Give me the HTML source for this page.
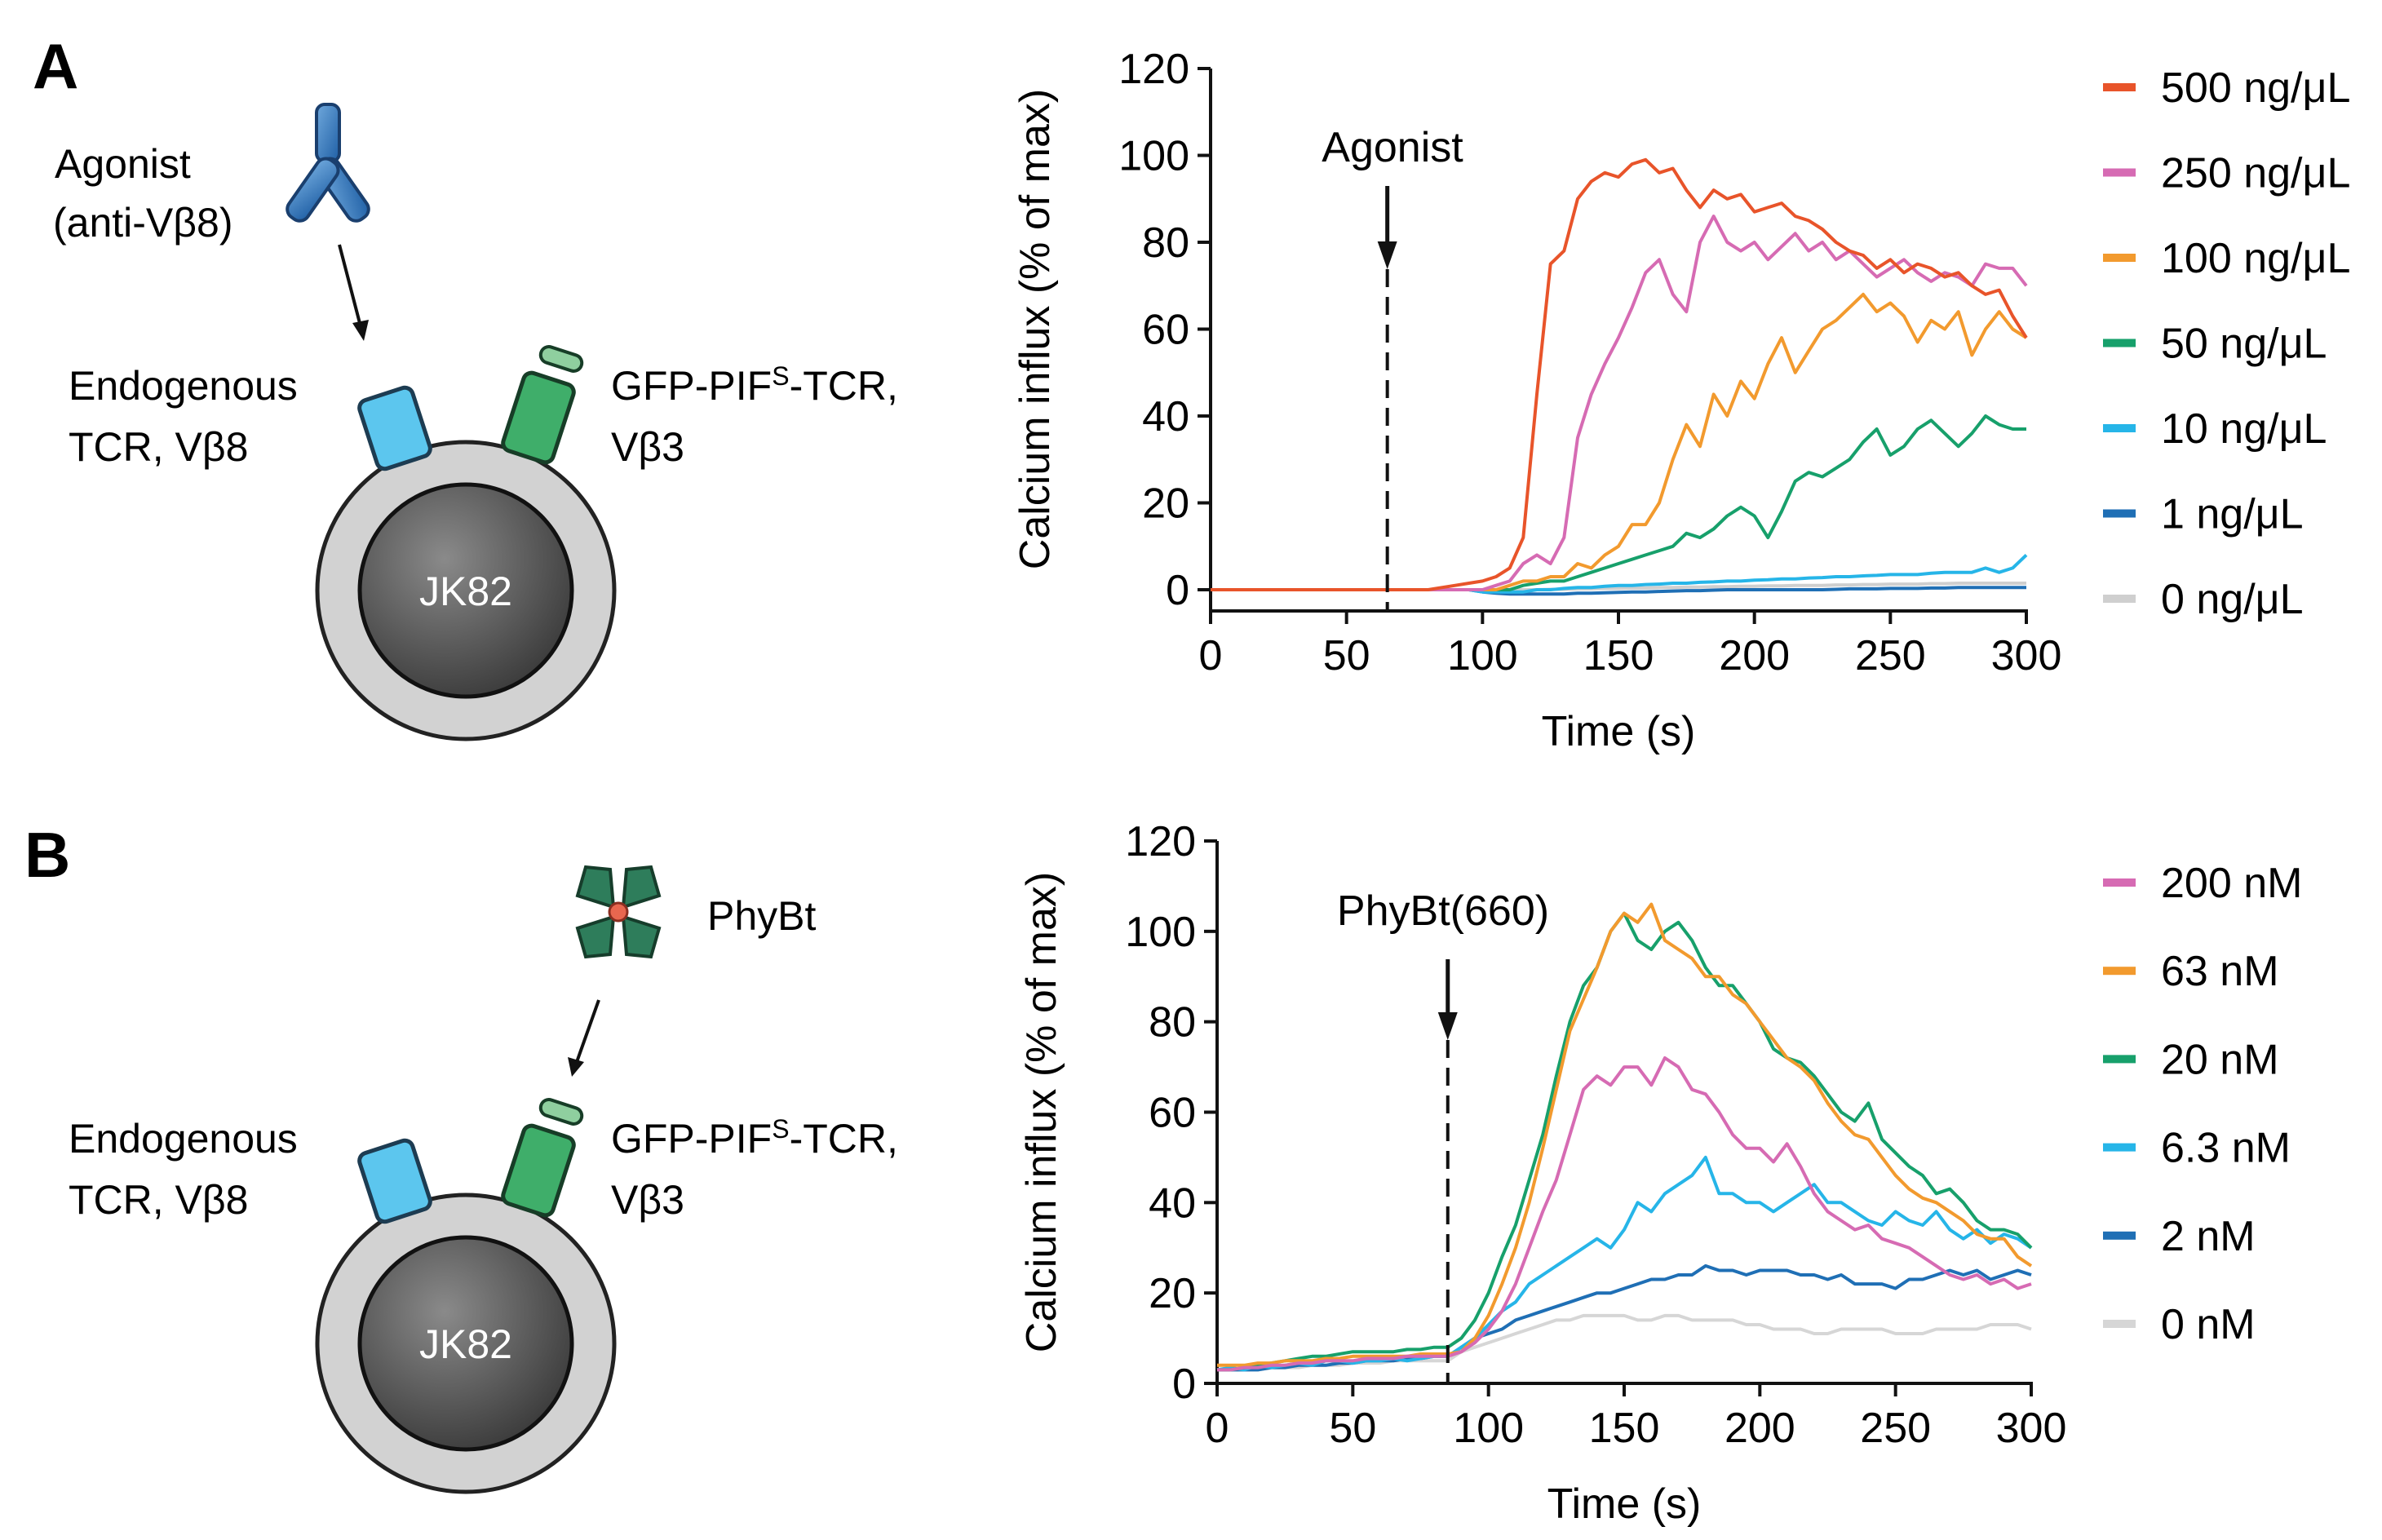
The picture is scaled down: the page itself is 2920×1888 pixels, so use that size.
<!DOCTYPE html>
<html><head><meta charset="utf-8"><style>
html,body{margin:0;padding:0;background:#fff}
svg{display:block;font-family:"Liberation Sans",Arial,sans-serif}
</style></head><body>
<svg id="fig" width="2920" height="1888" viewBox="0 0 2920 1888" xmlns="http://www.w3.org/2000/svg">
<defs>
<radialGradient id="core" cx="40%" cy="35%" r="70%"><stop offset="0" stop-color="#8a8a8a"/><stop offset="1" stop-color="#3a3a3a"/></radialGradient>
<linearGradient id="ab" x1="0" y1="0" x2="1" y2="1"><stop offset="0" stop-color="#6fa8dc"/><stop offset="1" stop-color="#1f5fa5"/></linearGradient>
</defs>
<g>
<text x="40" y="108" font-size="78" font-weight="bold">A</text>
<text x="67" y="218" font-size="50">Agonist</text>
<text x="65" y="290" font-size="50">(anti-Vβ8)</text>
<g transform="translate(402,206)" fill="url(#ab)" stroke="#1a3f6e" stroke-width="4">
<rect x="-14" y="-78" width="28" height="70" rx="10"/>
<rect x="-14" y="-10" width="28" height="85" rx="12" transform="rotate(-35)"/>
<rect x="-14" y="-10" width="28" height="85" rx="12" transform="rotate(35)"/>
</g>
<line x1="416" y1="300" x2="442" y2="400" stroke="#111" stroke-width="4"/>
<polygon points="446,418 432,396 452,392" fill="#111"/>
</g>
<g>
<text x="30" y="1075" font-size="78" font-weight="bold">B</text>
<g transform="translate(758,1118)" fill="#2e7d5b" stroke="#163d2b" stroke-width="4">
<path d="M-6,-6 L-50,-20 L-40,-55 L-10,-52 Z"/>
<path d="M6,-6 L50,-20 L40,-55 L10,-52 Z"/>
<path d="M-6,6 L-50,20 L-40,55 L-10,52 Z"/>
<path d="M6,6 L50,20 L40,55 L10,52 Z"/>
<circle r="11" fill="#e8674f" stroke="#8a2e20" stroke-width="3"/>
</g>
<text x="867" y="1140" font-size="50">PhyBt</text>
<line x1="734" y1="1226" x2="707" y2="1302" stroke="#111" stroke-width="4"/>
<polygon points="701,1320 696,1296 716,1302" fill="#111"/>
</g>
<g id="cells"></g>
<g id="chartA"></g>
<g id="chartB"></g>
</svg>
<script>
const NS="http://www.w3.org/2000/svg";
function mk(p,t,a,txt){const e=document.createElementNS(NS,t);for(const k in a)e.setAttribute(k,a[k]);if(txt!==undefined)e.textContent=txt;p.appendChild(e);return e;}

const times=[];for(let t=0;t<=300;t+=5)times.push(t);
const seriesNamesA=["500 ng/μL","250 ng/μL","100 ng/μL","50 ng/μL","10 ng/μL","1 ng/μL","0 ng/μL"];
const colorsA=["#e8542a","#d66bb3","#f29a2e","#17a06b","#26b5e8","#1f6fb5","#cfcfcf"];
const a500=[0,0,0,0,0,0,0,0,0,0,0,0,0,0,0,0,0,0.5,1,1.5,2,3,5,12,45,75,78,90,94,96,95,98,99,96,97,92,88,92,90,91,87,88,89,86,85,83,80,78,77,74,76,73,75,74,72,73,70,68,69,63,58];
const a250=[0,0,0,0,0,0,0,0,0,0,0,0,0,0,0,0,0,0,0,0,0,1,2,6,8,6,12,35,45,52,58,65,73,76,68,64,80,86,80,78,80,76,79,82,78,80,76,78,75,72,74,76,73,71,73,72,70,75,74,74,70];
const a100=[0,0,0,0,0,0,0,0,0,0,0,0,0,0,0,0,0,0,0,0,0,0,1,2,2,3,3,6,5,8,10,15,15,20,30,38,33,45,40,48,44,52,58,50,55,60,62,65,68,64,66,63,57,62,60,64,54,60,64,60,58];
const a50=[0,0,0,0,0,0,0,0,0,0,0,0,0,0,0,0,0,0,0,0,0,0,0,1,1.5,2,2,3,4,5,6,7,8,9,10,13,12,14,17,19,17,12,18,25,27,26,28,30,34,37,31,33,37,39,36,33,36,40,38,37,37];
const a10=[0,0,0,0,0,0,0,0,0,0,0,0,0,0,0,0,0,0,0,0,-0.5,-0.5,-0.5,-0.5,0,0,0.3,0.5,0.5,0.8,1,1,1.2,1.3,1.5,1.5,1.7,1.8,2,2,2.2,2.3,2.5,2.5,2.7,2.8,3,3,3.2,3.3,3.5,3.5,3.5,3.8,4,4,4,5,4,5,8];
const a1=[0,0,0,0,0,0,0,0,0,0,0,0,0,0,0,0,0,0,0,0,-0.5,-0.8,-1,-1,-1,-1,-1,-0.8,-0.8,-0.7,-0.6,-0.5,-0.5,-0.4,-0.3,-0.2,-0.2,-0.1,0,0,0,0,0,0,0,0,0.1,0.2,0.2,0.2,0.3,0.3,0.3,0.4,0.4,0.5,0.5,0.5,0.5,0.5,0.5];
const a0=[0,0,0,0,0,0,0,0,0,0,0,0,0,0,0,0,0,0,0,0,0,0,0,0,0,0.1,0.1,0.2,0.2,0.3,0.3,0.4,0.4,0.5,0.5,0.6,0.6,0.7,0.7,0.8,0.8,0.9,0.9,1,1,1,1.1,1.1,1.2,1.2,1.3,1.3,1.3,1.4,1.4,1.5,1.5,1.5,1.5,1.5,1.5];
const seriesNamesB=["200 nM","63 nM","20 nM","6.3 nM","2 nM","0 nM"];
const colorsB=["#d66bb3","#f29a2e","#17a06b","#26b5e8","#1f6fb5","#d6d6d6"];
const b200=[3,3,3.5,3.5,4,4,4.5,4.5,5,5,5,5.5,5.5,5.5,6,6,6,6,7,9,12,16,22,30,38,45,55,65,68,66,70,70,66,72,70,65,64,60,55,52,52,49,53,48,42,38,36,34,35,32,31,30,28,26,24,23,24,22,23,21,22];
const b63=[4,4,4,4.5,4.5,5,5,5,5.5,5.5,6,6,6,6,6,6.5,6.5,6.5,7,10,15,22,30,40,52,65,78,85,92,100,104,102,106,98,96,94,90,90,86,84,80,76,72,70,67,62,58,55,54,50,46,43,41,40,38,36,33,32,32,28,26];
const b20=[3,3,3.5,4,4.5,5,5.5,6,6,6.5,7,7,7,7,7.5,7.5,8,8,10,14,20,28,35,45,55,68,80,88,92,100,104,98,96,100,102,98,92,88,88,84,80,74,72,71,68,64,60,58,62,54,51,48,46,42,43,40,36,34,34,33,30];
const b63b=[3,3.5,3,4,3.5,4,4.5,4,5,5,4.5,5,5,5.5,5,5.5,6,6,8,10,13,16,18,22,24,26,28,30,32,30,34,40,38,42,44,46,50,42,42,40,40,38,40,42,44,40,40,38,36,35,38,36,35,38,34,32,34,31,33,32,30];
const b2=[3,3,3,3,3.5,3.5,4,4,4,4.5,4.5,5,5,5,5.5,5.5,6,6,8,10,11,12,14,15,16,17,18,19,20,20,21,22,23,23,24,24,26,25,25,24,25,25,25,24,24,23,24,22,22,22,21,23,23,24,25,24,25,23,24,25,24];
const b0=[3,3,3,3,3.5,3.5,3.5,4,4,4,4.5,4.5,4.5,5,5,5,5,5,7,8,9,10,11,12,13,14,14,15,15,15,15,14,14,15,15,14,14,14,14,13,13,12,12,12,11,11,12,12,12,12,11,11,11,12,12,12,12,13,13,13,12];
const yTicks=[0,20,40,60,80,100,120];
const xTicks=[0,50,100,150,200,250,300];

function chart(g,cfg){
  const xs=v=>cfg.x0+(v/300)*(cfg.x1-cfg.x0);
  const ys=v=>cfg.y0-(v/120)*(cfg.y0-cfg.y120);
  let e=mk(g,"line",{x1:cfg.x0,y1:cfg.y120,x2:cfg.x0,y2:cfg.base,stroke:"#111","stroke-width":4});
  
  
  e=mk(g,"line",{x1:cfg.x0-2,y1:cfg.base,x2:cfg.x1+2,y2:cfg.base,stroke:"#111","stroke-width":4});
  
  
  yTicks.forEach(v=>{
    mk(g,"line",{x1:cfg.x0-16,y1:ys(v),x2:cfg.x0,y2:ys(v),stroke:"#111","stroke-width":4});
    const t=mk(g,"text",{x:cfg.x0-26,y:ys(v)+18,"font-size":52,"text-anchor":"end"},String(v));
    
    
  });
  xTicks.forEach(v=>{
    mk(g,"line",{x1:xs(v),y1:cfg.base,x2:xs(v),y2:cfg.base+16,stroke:"#111","stroke-width":4});
    const t=mk(g,"text",{x:xs(v),y:cfg.base+72,"font-size":52,"text-anchor":"middle"},String(v));
    
    
  });
  let t=mk(g,"text",{x:(cfg.x0+cfg.x1)/2,y:cfg.base+165,"font-size":52,"text-anchor":"middle"},"Time (s)");
  
  
  t=mk(g,"text",{x:0,y:0,"font-size":52,"text-anchor":"middle",transform:`translate(${cfg.x0-198},${(cfg.y0+cfg.y120)/2}) rotate(-90)`},"Calcium influx (% of max)");
  
  
  for(let i=cfg.series.length-1;i>=0;i--){
    const d=cfg.series[i].map((v,j)=>(j?"L":"M")+xs(times[j]).toFixed(1)+","+ys(v).toFixed(1)).join("");
    const p=mk(g,"path",{d:d,fill:"none",stroke:cfg.colors[i],"stroke-width":4,"stroke-linejoin":"round"});
    
    
  }
  const sx=xs(cfg.stimT);
  mk(g,"line",{x1:sx,y1:cfg.arrowY1,x2:sx,y2:cfg.arrowY2-30,stroke:"#111","stroke-width":5});
  mk(g,"polygon",{points:`${sx-12},${cfg.arrowY2-34} ${sx+12},${cfg.arrowY2-34} ${sx},${cfg.arrowY2}`,fill:"#111"});
  const dl=mk(g,"line",{x1:sx,y1:cfg.arrowY2,x2:sx,y2:cfg.base,stroke:"#111","stroke-width":4,"stroke-dasharray":"22,12"});
  
  
  t=mk(g,"text",{x:cfg.stimLabelX,y:cfg.stimLabelY,"font-size":52,"text-anchor":"middle"},cfg.stimLabel);
  
  
  cfg.names.forEach((n,i)=>{
    const y=cfg.legY0+i*cfg.legDy;
    const r=mk(g,"rect",{x:2578,y:y-5,width:40,height:10,fill:cfg.colors[i]});
    
    
    const lt=mk(g,"text",{x:2649,y:y+18,"font-size":52},n);
    
    
  });
}
chart(document.getElementById("chartA"),{x0:1484,x1:2484,y0:723,y120:84,base:749,series:[a500,a250,a100,a50,a10,a1,a0],colors:colorsA,names:seriesNamesA,stimT:65,arrowY1:228,arrowY2:330,stimLabel:"Agonist",stimLabelX:1707,stimLabelY:198,legY0:107,legDy:104.5});
chart(document.getElementById("chartB"),{x0:1492,x1:2490,y0:1696,y120:1031,base:1696,series:[b200,b63,b20,b63b,b2,b0],colors:colorsB,names:seriesNamesB,stimT:85,arrowY1:1176,arrowY2:1275,stimLabel:"PhyBt(660)",stimLabelX:1769,stimLabelY:1134,legY0:1082,legDy:108.2});

const cells=document.getElementById("cells");
[0,923].forEach((dy,k)=>{
  const g=mk(cells,"g",{});
  
  
  mk(g,"circle",{cx:571,cy:724+dy,r:182,fill:"#d2d2d2",stroke:"#222","stroke-width":5});
  mk(g,"circle",{cx:571,cy:724+dy,r:130,fill:"url(#core)",stroke:"#111","stroke-width":5});
  mk(g,"text",{x:571,y:742+dy,"font-size":50,"text-anchor":"middle",fill:"#fff"},"JK82");
  mk(g,"rect",{x:-34,y:-44,width:68,height:88,rx:10,fill:"#5cc6ee",stroke:"#1d3c52","stroke-width":5,transform:`translate(484,525) translate(0,${dy}) rotate(-18)`});
  mk(g,"rect",{x:-32,y:-50,width:64,height:100,rx:10,fill:"#3fae6a",stroke:"#173d27","stroke-width":5,transform:`translate(660,512) translate(0,${dy}) rotate(18)`});
  mk(g,"rect",{x:-26,y:-10,width:52,height:20,rx:10,fill:"#8fcf9f",stroke:"#173d27","stroke-width":4,transform:`translate(688,440) translate(0,${dy}) rotate(18)`});
  mk(g,"text",{x:84,y:490+dy,"font-size":50},"Endogenous");
  mk(g,"text",{x:84,y:565+dy,"font-size":50},"TCR, Vβ8");
  const t=mk(g,"text",{x:749,y:490+dy,"font-size":50});
  t.innerHTML='GFP-PIF<tspan font-size="32" dy="-18">S</tspan><tspan dy="18">-TCR,</tspan>';
  mk(g,"text",{x:749,y:565+dy,"font-size":50},"Vβ3");
});
</script>
</body></html>
